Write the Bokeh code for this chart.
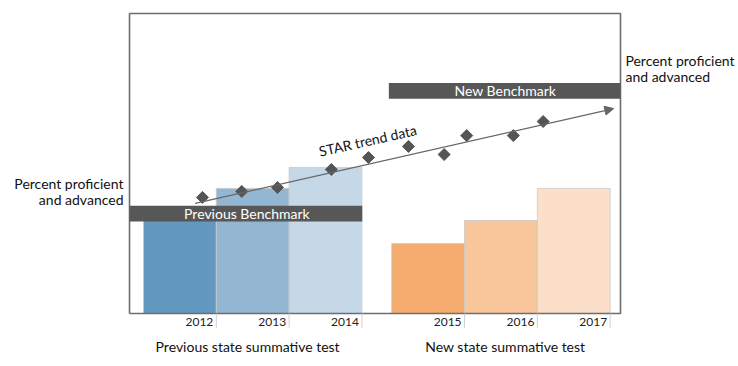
from bokeh.plotting import figure
from bokeh.models import Range1d, Arrow, NormalHead
from bokeh.core.properties import value
from bokeh.embed import file_html
from bokeh.resources import INLINE
import math

# ---- data ----
years = ["2012", "2013", "2014", "2015", "2016", "2017"]
pct = [31, 41.7, 48.7, 23.3, 31, 41.7]
bar_colors = ["#6399c0", "#93b7d3", "#c4d8e8", "#f6ac6e", "#f9c69b", "#fbdfc8"]
group_labels = ["Previous state summative test", "New state summative test"]
benchmarks = [33.3, 74.2]
benchmark_labels = ["Previous Benchmark", "New Benchmark"]
star_t = [0.81, 1.35, 1.84, 2.58, 3.09, 3.64, 4.13, 4.44, 5.08, 5.49]
star_y = [38.7, 40.7, 42.0, 48.0, 52.0, 55.7, 53.0, 59.3, 59.3, 64.0]
trend_t = [0.71, 6.46]
trend_y = [36.7, 68.3]
axis_label = ["Percent proficient", "and advanced"]

FONT = value("Lato")
GAP = 0.41          # gap between the two test groups (bar widths)
UNIT = 72.8         # px per bar width
YPX = 3.0           # px per percent
W, H = 736, 364
X0PX, Y0PX = 143, 313   # canvas px of data origin (x from left, y from top)

lefts = [i + (GAP if i >= 3 else 0) for i in range(len(years))]
rights = [l + 1 for l in lefts]
frame_l, frame_r = -0.192, rights[-1] + 0.142

p = figure(width=W, height=H, output_backend="svg", toolbar_location=None,
           x_axis_location=None, y_axis_location=None, min_border=0,
           x_range=Range1d(-X0PX / UNIT, (W - X0PX) / UNIT),
           y_range=Range1d(-(H - Y0PX) / YPX, Y0PX / YPX))
p.outline_line_color = None
p.grid.visible = False
p.background_fill_color = "white"
p.border_fill_color = "white"

# bars
p.quad(left=lefts, right=rights, bottom=[0] * 6, top=pct, fill_color=bar_colors,
       line_color="#c8c8c8", line_alpha=0.8, line_width=1)

# frame
p.line(x=[frame_l, frame_l, frame_r, frame_r, frame_l], y=[0, 100, 100, 0, 0],
       line_color="#6e6e6e", line_width=1.6)

# tick separators and labels
p.segment(x0=rights, x1=rights, y0=[0] * 6, y1=[-4.7] * 6, line_color="#d0d0d0", line_width=1)
p.text(x=rights, y=[-2.7] * 6, text=years, text_align="right", text_baseline="middle",
       x_offset=-3, text_font=FONT, text_font_size="12px", text_color="#222222")

# group labels
p.text(x=[1.43, 4.97], y=[-11, -11], text=group_labels, text_align="center",
       text_baseline="middle", text_font=FONT, text_font_size="14px", text_color="#111111")

# benchmarks
bx0 = [frame_l, lefts[3] - 0.04]
bx1 = [rights[2] + 0.005, frame_r]
p.quad(left=bx0, right=bx1, bottom=[b - 2.65 for b in benchmarks],
       top=[b + 2.65 for b in benchmarks], fill_color="#575757", line_color=None)
p.text(x=[1.42, 4.97], y=benchmarks, text=benchmark_labels, text_align="center",
       text_baseline="middle", text_font=FONT, text_font_size="14px", text_color="white")

# trend arrow
p.add_layout(Arrow(x_start=trend_t[0], y_start=trend_y[0], x_end=trend_t[1], y_end=trend_y[1],
                   line_color="#666666", line_width=1.2,
                   end=NormalHead(size=9, fill_color="#666666", line_color="#666666")))
ang = math.degrees(math.atan2((trend_y[1] - trend_y[0]) * YPX, (trend_t[1] - trend_t[0]) * UNIT))
p.text(x=[3.08], y=[57.7], text=["STAR trend data"], angle=ang, angle_units="deg",
       text_align="center", text_baseline="middle", text_font=FONT, text_font_size="14px",
       text_color="#111111")

# STAR diamonds
p.scatter(x=star_t, y=star_y, marker="square", size=8.5, angle=math.pi / 4,
          fill_color="#555555", line_color="#555555")

# side labels
p.text(x=[-0.275, -0.275], y=[43.3, 38.0], text=axis_label, text_align="right",
       text_baseline="middle", text_font=FONT, text_font_size="14px", text_color="#111111")
p.text(x=[6.62, 6.62], y=[84.3, 79.0], text=axis_label, text_align="left",
       text_baseline="middle", text_font=FONT, text_font_size="14px", text_color="#111111")

open("out.html", "w").write(file_html(p, INLINE))
